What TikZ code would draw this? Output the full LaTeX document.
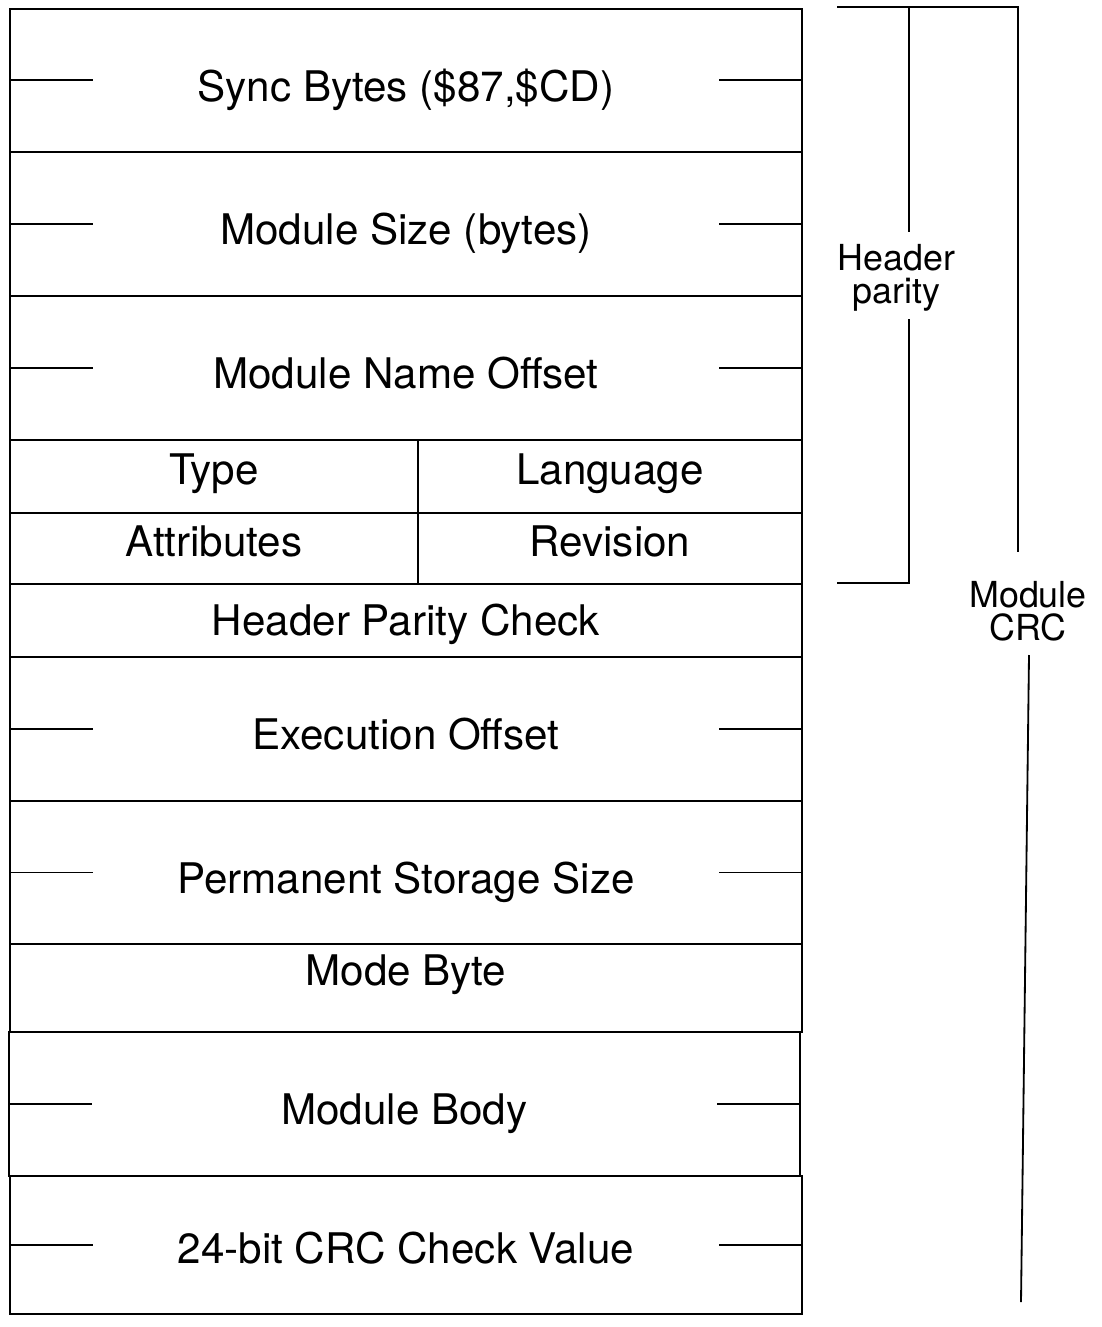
\documentclass[tikz,border=0pt]{standalone}
\usepackage{fontspec}
\setmainfont{TeX Gyre Heros}
\usepackage{tikz}
\usetikzlibrary{positioning}

\begin{document}
\begin{tikzpicture}[
  line width=1.3pt,
  field/.style={draw,anchor=north west,inner sep=0pt,font=\fontsize{30}{36}\selectfont,text depth=0pt},
  wide/.style={field,minimum width=19.8cm,minimum height=3.6cm,text height=1.05cm},
  half/.style={field,minimum height=1.8cm,text height=0.4cm},
  side/.style={align=center,anchor=north,inner sep=0pt,font=\fontsize{25.5}{24}\selectfont},
]
 \useasboundingbox (0,0) rectangle (27.55,-33.175);
 % module header fields
 \node[wide,xshift=0.225cm,yshift=-0.2cm,minimum height=3.575cm] (sync) {Sync Bytes (\$87,\$CD)};
 \node[wide,xshift=0.225cm,yshift=-3.775cm] (size) {Module Size (bytes)};
 \node[wide,xshift=0.225cm,yshift=-7.375cm] (name) {Module Name Offset};
 \node[half,xshift=0.225cm,yshift=-10.975cm,minimum width=10.2cm,minimum height=1.825cm] (type) {Type};
 \node[half,xshift=10.425cm,yshift=-10.975cm,minimum width=9.6cm,minimum height=1.825cm] (lang) {Language};
 \node[half,xshift=0.225cm,yshift=-12.8cm,minimum width=10.2cm,minimum height=1.775cm] (attr) {Attributes};
 \node[half,xshift=10.425cm,yshift=-12.8cm,minimum width=9.6cm,minimum height=1.775cm] (rev) {Revision};
 \node[field,xshift=0.225cm,yshift=-14.575cm,minimum width=19.8cm,minimum height=1.825cm,text height=0.75cm] (parity) {Header Parity Check};
 \node[wide,xshift=0.225cm,yshift=-16.4cm] (exec) {Execution Offset};
 \node[wide,xshift=0.225cm,yshift=-20cm,minimum height=3.575cm] (perm) {Permanent Storage Size};
 \node[field,xshift=0.225cm,yshift=-23.575cm,minimum width=19.8cm,minimum height=2.2cm,text height=0pt,text depth=0.1cm] (mode) {Mode Byte};
 \node[wide,xshift=0.2cm,yshift=-25.775cm,minimum width=19.775cm] (body) {Module Body};
 \node[wide,xshift=0.225cm,yshift=-29.375cm,minimum height=3.45cm,text height=0.95cm] (crc) {24-bit CRC Check Value};

 % multi-byte ticks
 \draw (sync.west) -- ++(2.1,0);  \draw (sync.east) -- ++(-2.1,0);
 \draw (size.west) -- ++(2.1,0);  \draw (size.east) -- ++(-2.1,0);
 \draw (name.west) -- ++(2.1,0);  \draw (name.east) -- ++(-2.1,0);
 \draw (exec.west) -- ++(2.1,0);  \draw (exec.east) -- ++(-2.1,0);
 \draw (perm.west) -- ++(2.1,0);  \draw (perm.east) -- ++(-2.1,0);
 \draw (body.west) -- ++(2.1,0);  \draw (body.east) -- ++(-2.1,0);
 \draw (crc.west) -- ++(2.1,0);   \draw (crc.east) -- ++(-2.1,0);

 % brackets
 \node[side] (hplabel) at (22.41,-6.075) {Header\\parity};
 \node[side] (crclabel) at (25.7,-14.5) {Module\\CRC};
 \coordinate (bartop) at (20.925,-0.175);
 \coordinate (hptop) at (22.725,-0.175);
 \coordinate (hpup) at (22.725,-5.8);
 \coordinate (hpdown) at (22.725,-7.975);
 \coordinate (hpbot) at (22.725,-14.575);
 \coordinate (hpend) at (20.925,-14.575);
 \coordinate (crctop) at (25.45,-0.175);
 \coordinate (crcup) at (25.45,-13.8);
 \coordinate (crcdown) at (25.725,-16.375);
 \coordinate (crcend) at (25.525,-32.55);
 \draw (bartop) -- (crctop) -- (crcup);
 \draw (hptop) -- (hpup);
 \draw (hpdown) -- (hpbot) -- (hpend);
 \draw (crcdown) -- (crcend);
\end{tikzpicture}
\end{document}
